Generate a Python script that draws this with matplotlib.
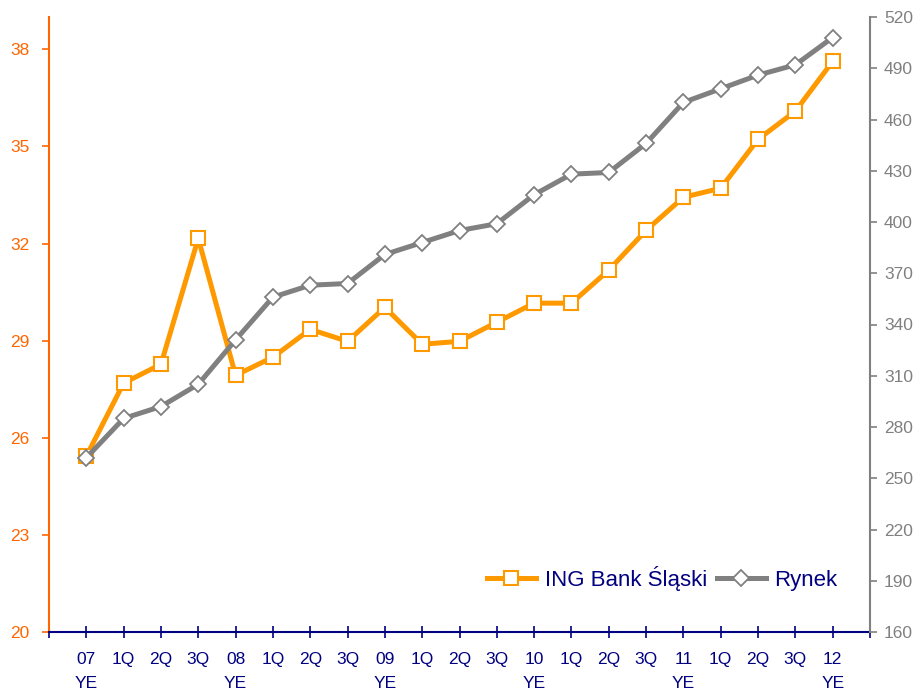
import matplotlib.pyplot as plt
from matplotlib.lines import Line2D

plt.rcParams["font.family"] = ["Liberation Sans", "DejaVu Sans"]

kategorie = ["07\nYE", "1Q", "2Q", "3Q", "08\nYE", "1Q", "2Q", "3Q", "09\nYE",
             "1Q", "2Q", "3Q", "10\nYE", "1Q", "2Q", "3Q", "11\nYE",
             "1Q", "2Q", "3Q", "12\nYE"]
ing = [25.43, 27.69, 28.27, 32.16, 27.93, 28.49, 29.35, 28.98, 30.03, 28.89,
       28.98, 29.57, 30.16, 30.16, 31.18, 32.41, 33.43, 33.71, 35.22, 36.09, 37.63]
rynek = [262, 285, 292, 305, 331, 356, 363, 364, 381, 388, 395, 399, 416,
         428, 429, 446, 470, 478, 486, 492, 508]

ORANGE = "#FF9900"
ORANGE_AX = "#FF6600"
GRAY = "#808080"
NAVY = "#000080"

fig = plt.figure(figsize=(9.16, 6.89), dpi=100)
ax = fig.add_axes([49 / 916, 57 / 689, 821 / 916, 615 / 689])
ax2 = ax.twinx()

x = list(range(len(kategorie)))
ax.plot(x, ing, color=ORANGE, lw=3.6, marker="s", ms=10, mfc="white",
        mec=ORANGE, mew=1.5, zorder=3)
ax2.plot(x, rynek, color=GRAY, lw=3.6, marker="D", ms=8, mfc="white",
         mec=GRAY, mew=1.3, zorder=3)

ax.set_xlim(-1, len(kategorie))
ax.set_ylim(20, 39)
ax.set_yticks(range(20, 39, 3))
ax2.set_ylim(160, 520)
ax2.set_yticks(range(160, 521, 30))

ax.set_xticks(range(-1, len(kategorie) + 1))
ax.set_xticklabels([""] + kategorie + [""])

for s in ["top", "right"]:
    ax.spines[s].set_visible(False)
for s in ["top", "left"]:
    ax2.spines[s].set_visible(False)
ax2.spines["bottom"].set_visible(False)
ax.spines["left"].set_color(ORANGE_AX)
ax.spines["left"].set_linewidth(1.5)
ax.spines["bottom"].set_color(NAVY)
ax.spines["bottom"].set_linewidth(1.5)
ax2.spines["right"].set_color(GRAY)
ax2.spines["right"].set_linewidth(1.5)

ax.tick_params(axis="y", colors=ORANGE_AX, labelsize=12.5, length=5,
               width=1.2, pad=9)
ax.tick_params(axis="x", colors=NAVY, labelsize=12.5, direction="inout",
               length=9, width=1.2, pad=10)
ax2.tick_params(axis="y", colors=GRAY, labelsize=12.5, length=5, width=1.2,
                pad=5)
for t in ax.get_xticklabels():
    t.set_linespacing(1.7)

handles = [
    Line2D([], [], color=ORANGE, lw=3.6, marker="s", ms=10, mfc="white",
           mec=ORANGE, mew=1.5),
    Line2D([], [], color=GRAY, lw=3.6, marker="D", ms=8, mfc="white",
           mec=GRAY, mew=1.3),
]
leg = ax.legend(handles, ["ING Bank Śląski", "Rynek"], ncol=2, frameon=False,
                loc="center right", bbox_to_anchor=(0.985, 0.087),
                fontsize=16, handlelength=2.2, columnspacing=0.45,
                handletextpad=0.4)
for t in leg.get_texts():
    t.set_color(NAVY)

fig.savefig("out.png", dpi=100)
